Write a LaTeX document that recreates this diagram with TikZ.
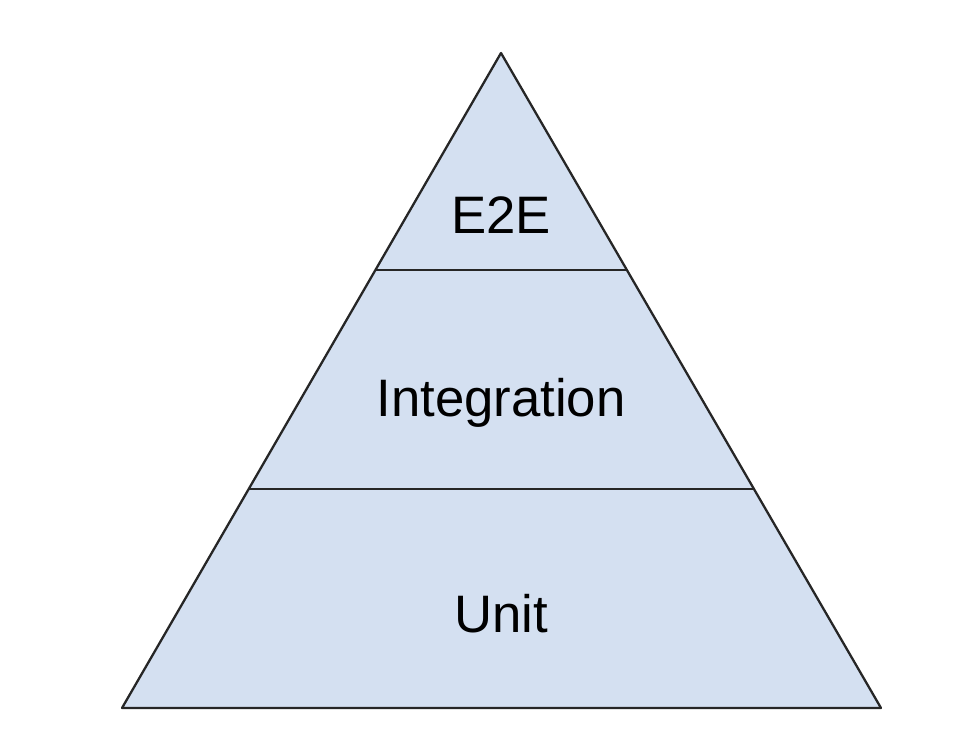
\documentclass[tikz,border=0pt]{standalone}
\usepackage{fontspec}
\setmainfont{Liberation Sans}
\usetikzlibrary{calc}
\definecolor{layerfill}{RGB}{212,224,241}
\tikzset{
    pyrbase/.style={line width=1.3pt, line join=round},
    pyrface/.style={draw=black!85, fill=layerfill},
    divider/.style={draw=black!85, line width=1.3pt},
    layerlabel/.style={font=\fontsize{30}{35}\selectfont, anchor=base, inner sep=0pt},
    corner/.style={inner sep=0pt, minimum size=0pt},
}

\begin{document}
\begin{tikzpicture}[pyrbase]
\useasboundingbox (0,0) rectangle (19.56,15);

% ===================== PYRAMID OUTLINE =====================
\node[corner] (apex) at (10.02, 13.94) {};
\node[corner] (bl) at (2.44, 0.84) {};
\node[corner] (br) at (17.62, 0.84) {};
\path[pyrface] (apex.center) -- (bl.center) -- (br.center) -- cycle;

% ===================== LAYER DIVIDERS =====================
\coordinate (d1l) at ($(apex)!0.3313!(bl)$);
\coordinate (d1r) at ($(apex)!0.3313!(br)$);
\coordinate (d2l) at ($(apex)!0.6656!(bl)$);
\coordinate (d2r) at ($(apex)!0.6656!(br)$);
\draw[divider] (d1l) -- (d1r);
\draw[divider] (d2l) -- (d2r);

% ===================== LABELS =====================
\node[layerlabel] (e2e) at (10.02, 10.32) {E2E};
\node[layerlabel] (integ) at (10.02, 6.66) {Integration};
\node[layerlabel] (unit) at (10.02, 2.36) {Unit};

\end{tikzpicture}
\end{document}
